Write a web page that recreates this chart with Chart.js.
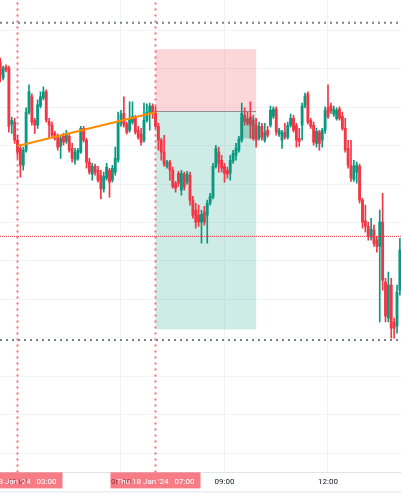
<!DOCTYPE html>
<html>
<head>
<meta charset="utf-8">
<script src="https://cdn.jsdelivr.net/npm/chart.js@4.4.1/dist/chart.umd.min.js"></script>
<style>
  html, body { margin: 0; padding: 0; background: #fff; }
  #wrap { width: 401px; height: 501px; }
</style>
</head>
<body>
<div id="wrap"><canvas id="chart" width="401" height="501"></canvas></div>
<script>
// 5 minute bars, Thu 18 Jan '24
var firstBar = '02:30';
var barMinutes = 5;

var open = [2024.18, 2023.76, 2024.05, 2024.02, 2022.56, 2022.61, 2022.14, 2021.93, 2021.49, 2021.88,
  2022.87, 2023.27, 2022.66, 2022.53, 2023.03, 2023.24, 2023.40, 2022.63, 2022.53, 2022.32,
  2022.24, 2021.98, 2022.24, 2022.11, 2022.24, 2021.93, 2021.62, 2021.67, 2021.83, 2022.45,
  2022.14, 2021.57, 2021.26, 2021.46, 2021.36, 2021.23, 2020.87, 2021.15, 2021.36, 2021.10,
  2021.31, 2021.62, 2022.58, 2022.84, 2022.56, 2022.40, 2022.61, 2022.74, 2022.40, 2022.30,
  2022.14, 2022.66, 2022.87, 2023.03, 2022.84, 2022.50, 2022.14, 2021.83, 2021.46, 2021.57,
  2021.36, 2021.02, 2021.28, 2020.84, 2021.26, 2021.05, 2021.23, 2020.58, 2020.32, 2020.19,
  2020.01, 2020.27, 2020.19, 2020.50, 2020.66, 2021.46, 2021.83, 2021.62, 2021.46, 2021.36,
  2021.28, 2021.60, 2021.75, 2021.88, 2022.14, 2022.79, 2022.69, 2022.74, 2022.66, 2022.53,
  2022.19, 2022.50, 2022.14, 2022.40, 2022.53, 2022.76, 2022.95, 2022.30, 2022.14, 2022.35,
  2022.22, 2022.53, 2022.71, 2022.53, 2022.19, 2022.53, 2023.03, 2023.35, 2022.66, 2022.53,
  2022.06, 2022.35, 2022.14, 2022.40, 2022.98, 2023.03, 2022.82, 2022.71, 2022.95, 2022.76,
  2022.45, 2021.93, 2021.49, 2021.12, 2021.31, 2021.46, 2020.58, 2020.04, 2019.90, 2019.62,
  2019.80, 2019.54, 2019.38, 2020.01, 2018.45, 2017.51, 2018.37, 2017.41, 2017.30, 2018.24];

var high = [2024.28, 2024.07, 2024.10, 2024.07, 2022.74, 2022.71, 2022.27, 2022.01, 2021.96, 2022.98,
  2023.58, 2023.35, 2022.71, 2023.19, 2023.40, 2023.53, 2023.45, 2022.71, 2022.61, 2022.37,
  2022.30, 2022.27, 2022.32, 2022.40, 2022.30, 2022.06, 2021.93, 2021.93, 2022.50, 2022.50,
  2022.19, 2021.67, 2021.54, 2021.52, 2021.46, 2021.36, 2021.31, 2021.54, 2021.41, 2021.49,
  2021.96, 2022.87, 2022.92, 2023.27, 2022.61, 2023.14, 2023.14, 2022.79, 2022.50, 2022.45,
  2023.11, 2023.09, 2023.11, 2023.09, 2023.01, 2022.58, 2022.19, 2022.27, 2021.62, 2021.62,
  2021.44, 2021.07, 2021.33, 2021.36, 2021.31, 2021.33, 2021.31, 2020.68, 2020.50, 2020.45,
  2020.32, 2020.42, 2020.58, 2020.76, 2021.54, 2022.01, 2021.96, 2021.75, 2021.54, 2021.44,
  2021.75, 2021.88, 2022.06, 2022.24, 2023.11, 2022.98, 2022.87, 2023.14, 2022.79, 2022.71,
  2022.61, 2022.58, 2022.58, 2022.50, 2023.03, 2023.01, 2023.01, 2022.45, 2022.40, 2022.58,
  2022.61, 2022.82, 2022.79, 2022.58, 2022.45, 2023.11, 2023.37, 2023.40, 2022.71, 2022.61,
  2022.45, 2022.40, 2022.45, 2023.01, 2023.58, 2023.11, 2023.03, 2022.98, 2023.01, 2022.87,
  2022.71, 2022.14, 2022.14, 2021.62, 2021.57, 2021.52, 2020.63, 2020.45, 2020.01, 2020.11,
  2019.93, 2019.64, 2020.32, 2020.76, 2018.55, 2018.71, 2018.55, 2017.51, 2018.37, 2019.59];

var low = [2023.66, 2023.71, 2023.92, 2022.35, 2022.32, 2022.06, 2021.67, 2021.18, 2021.36, 2021.83,
  2022.82, 2022.53, 2022.32, 2022.45, 2022.98, 2023.19, 2022.61, 2022.19, 2022.22, 2022.14,
  2021.88, 2021.67, 2022.01, 2022.06, 2021.83, 2021.57, 2021.52, 2021.62, 2021.80, 2022.09,
  2021.41, 2021.26, 2021.10, 2021.23, 2021.05, 2020.61, 2020.79, 2021.10, 2020.66, 2021.05,
  2021.23, 2021.57, 2022.50, 2022.48, 2022.30, 2022.35, 2022.56, 2022.30, 2022.17, 2022.01,
  2022.09, 2022.61, 2022.40, 2022.71, 2022.45, 2021.88, 2021.62, 2021.46, 2021.41, 2021.10,
  2020.89, 2020.79, 2020.94, 2020.71, 2020.84, 2021.00, 2020.45, 2020.11, 2019.85, 2019.90,
  2019.46, 2019.93, 2019.46, 2020.45, 2020.61, 2021.41, 2021.31, 2021.31, 2021.05, 2021.15,
  2021.10, 2021.54, 2021.62, 2021.83, 2022.09, 2022.53, 2022.53, 2022.19, 2022.14, 2021.96,
  2022.14, 2022.14, 2022.09, 2022.22, 2022.48, 2022.71, 2022.27, 2022.24, 2021.93, 2022.17,
  2022.17, 2022.48, 2022.35, 2021.96, 2021.98, 2022.14, 2022.98, 2022.56, 2022.45, 2022.01,
  2021.96, 2021.88, 2021.96, 2022.32, 2022.71, 2022.84, 2022.76, 2022.66, 2022.66, 2022.40,
  2021.83, 2021.41, 2021.07, 2021.07, 2021.02, 2020.50, 2019.85, 2019.75, 2019.54, 2019.54,
  2019.38, 2019.23, 2017.41, 2018.24, 2017.41, 2017.41, 2016.99, 2016.99, 2017.12, 2018.11];

var close = [2023.84, 2024.02, 2023.97, 2022.50, 2022.66, 2022.14, 2021.83, 2021.49, 2021.88, 2022.87,
  2023.40, 2022.61, 2022.53, 2023.06, 2023.27, 2023.40, 2022.66, 2022.53, 2022.27, 2022.19,
  2021.96, 2022.19, 2022.09, 2022.30, 2021.88, 2021.67, 2021.83, 2021.88, 2022.45, 2022.14,
  2021.57, 2021.31, 2021.46, 2021.31, 2021.10, 2020.87, 2021.20, 2021.44, 2021.05, 2021.41,
  2021.67, 2022.61, 2022.82, 2022.53, 2022.35, 2022.71, 2022.76, 2022.35, 2022.22, 2022.09,
  2022.66, 2022.87, 2023.03, 2022.84, 2022.50, 2022.14, 2021.83, 2021.52, 2021.57, 2021.36,
  2020.94, 2020.89, 2021.02, 2021.28, 2020.92, 2021.26, 2020.58, 2020.19, 2020.01, 2020.01,
  2020.21, 2020.01, 2020.50, 2020.68, 2021.46, 2021.93, 2021.54, 2021.41, 2021.28, 2021.26,
  2021.62, 2021.80, 2021.93, 2022.17, 2022.84, 2022.63, 2022.58, 2022.53, 2022.19, 2022.14,
  2022.50, 2022.22, 2022.35, 2022.27, 2022.92, 2022.95, 2022.35, 2022.40, 2022.35, 2022.22,
  2022.53, 2022.71, 2022.40, 2022.14, 2022.11, 2023.03, 2023.29, 2022.61, 2022.50, 2022.09,
  2022.37, 2022.06, 2022.40, 2022.92, 2022.76, 2022.90, 2022.95, 2022.92, 2022.71, 2022.45,
  2021.88, 2021.49, 2021.15, 2021.46, 2021.49, 2020.58, 2020.01, 2019.90, 2019.64, 2019.83,
  2019.44, 2019.38, 2020.01, 2018.50, 2017.56, 2018.37, 2017.25, 2017.25, 2018.19, 2019.28];

// axis labels
var timeTicks = ['03:00', '06:00', '09:00', '12:00'];
var markedTimes = ['03:00', '07:00'];
var markedDay = "Thu 18 Jan '24";

// drawings on the chart
var trendTimes = ['03:00', '07:00'];
var trendPrices = [2021.99, 2022.87];
var rangeLevels = [2025.20, 2016.94];
var alertLevel = 2019.64;
var positionTimes = ['07:00', '09:55'];
var positionPrices = [2024.51, 2022.90, 2017.22]; // stop, entry, target
var openPnlTimes = ['09:27', '09:55'];
var openPnlPrices = [2022.72, 2022.19];

var UP = '#089981';
var DOWN = '#f23645';

function toMin(s) {
  var p = s.split(':');
  return Number(p[0]) * 60 + Number(p[1]);
}
function hhmm(m) {
  var h = Math.floor(m / 60), mm = m % 60;
  return (h < 10 ? '0' : '') + h + ':' + (mm < 10 ? '0' : '') + mm;
}

var xMin = 149.57, xMax = 846.96;
var yMin = 2013.497, yMax = 2025.789;

var times = open.map(function (v, i) { return toMin(firstBar) + i * barMinutes; });
var bodies = times.map(function (t, i) { return { x: t, y: [open[i], close[i]] }; });
var wicks = times.map(function (t, i) { return { x: t, y: [low[i], high[i]] }; });
var colors = close.map(function (c, i) { return c >= open[i] ? UP : DOWN; });

function hLine(price, color, dash, width) {
  return {
    type: 'line', data: [{ x: xMin, y: price }, { x: xMax, y: price }],
    borderColor: color, borderDash: dash, borderWidth: width, pointRadius: 0, order: 2
  };
}
function vLine(time, color) {
  return {
    type: 'line', data: [{ x: toMin(time), y: yMin }, { x: toMin(time), y: yMax }],
    borderColor: color, borderDash: [2, 4], borderWidth: 2, pointRadius: 0, order: 2
  };
}

var datasets = [
  { type: 'bar', data: wicks, backgroundColor: colors, barThickness: 1, grouped: false, order: 5 },
  { type: 'bar', data: bodies, backgroundColor: colors, barThickness: 2.2, minBarLength: 1, grouped: false, order: 4 },
  {
    type: 'line',
    data: trendTimes.map(function (t, i) { return { x: toMin(t), y: trendPrices[i] }; }),
    borderColor: '#fb8c00', borderWidth: 2, pointRadius: 0, order: 1
  },
  hLine(rangeLevels[0], '#7d808a', [2, 4], 2),
  hLine(rangeLevels[1], '#7d808a', [2, 4], 2),
  hLine(alertLevel, '#f23645', [1, 1], 1)
];
markedTimes.forEach(function (t) { datasets.push(vLine(t, 'rgba(242,54,69,0.7)')); });

var drawings = {
  id: 'drawings',
  beforeDatasetsDraw: function (chart) {
    var ctx = chart.ctx, xs = chart.scales.x, ys = chart.scales.y;
    var x0 = xs.getPixelForValue(toMin(positionTimes[0]));
    var x1 = xs.getPixelForValue(toMin(positionTimes[1]));
    var yStop = ys.getPixelForValue(positionPrices[0]);
    var yEntry = ys.getPixelForValue(positionPrices[1]);
    var yTarget = ys.getPixelForValue(positionPrices[2]);
    ctx.save();
    ctx.fillStyle = 'rgba(242,54,69,0.2)';
    ctx.fillRect(x0, yStop, x1 - x0, yEntry - yStop);
    ctx.fillStyle = 'rgba(8,153,129,0.2)';
    ctx.fillRect(x0, yEntry, x1 - x0, yTarget - yEntry);
    ctx.strokeStyle = '#8f9096';
    ctx.lineWidth = 1;
    ctx.beginPath();
    ctx.moveTo(x0, Math.round(yEntry) + 0.5);
    ctx.lineTo(x1, Math.round(yEntry) + 0.5);
    ctx.stroke();
    ctx.restore();
  },
  afterDatasetsDraw: function (chart) {
    var ctx = chart.ctx, xs = chart.scales.x, ys = chart.scales.y;
    var x0 = xs.getPixelForValue(toMin(openPnlTimes[0]));
    var x1 = xs.getPixelForValue(toMin(openPnlTimes[1]));
    var y0 = ys.getPixelForValue(openPnlPrices[0]);
    var y1 = ys.getPixelForValue(openPnlPrices[1]);
    ctx.save();
    ctx.fillStyle = 'rgba(40,140,120,0.3)';
    ctx.fillRect(x0, y0, x1 - x0, y1 - y0);
    ctx.restore();
  },
  afterDraw: function (chart) {
    var ctx = chart.ctx, xs = chart.scales.x;
    var top = chart.chartArea.bottom;
    ctx.save();
    ctx.strokeStyle = '#e0e3eb';
    ctx.lineWidth = 1;
    ctx.beginPath();
    ctx.moveTo(0, top + 19.5);
    ctx.lineTo(chart.width, top + 19.5);
    ctx.stroke();
    ctx.font = '8px Roboto';
    ctx.textAlign = 'center';
    ctx.textBaseline = 'middle';
    markedTimes.forEach(function (t) {
      var x = xs.getPixelForValue(toMin(t));
      ctx.fillStyle = 'rgba(242,54,69,0.65)';
      ctx.fillRect(x - 45, top, 90, 16);
      ctx.fillStyle = '#ffffff';
      ctx.fillText(markedDay + '   ' + t, x, top + 9.5);
    });
    ctx.restore();
  }
};

new Chart(document.getElementById('chart'), {
  type: 'bar',
  data: { datasets: datasets },
  options: {
    responsive: false,
    animation: false,
    events: [],
    layout: { padding: { left: 0, right: 0, top: 0, bottom: 10 } },
    plugins: { legend: { display: false }, tooltip: { enabled: false } },
    scales: {
      x: {
        type: 'linear', min: xMin, max: xMax, offset: false,
        grid: { color: '#f2f3f5', drawTicks: false, offset: false },
        border: { display: true, color: '#e0e3eb' },
        afterBuildTicks: function (scale) {
          scale.ticks = timeTicks.map(function (t) { return { value: toMin(t) }; });
        },
        ticks: {
          autoSkip: false, maxRotation: 0, padding: 4.5, color: '#131722',
          font: { family: 'Roboto', size: 8 },
          callback: function (v) { return hhmm(v); }
        }
      },
      y: {
        type: 'linear', min: yMin, max: yMax,
        grid: { color: '#f2f3f5', drawTicks: false },
        border: { display: false },
        ticks: { display: false, stepSize: 1, includeBounds: false }
      }
    }
  },
  plugins: [drawings]
});
</script>
</body>
</html>
